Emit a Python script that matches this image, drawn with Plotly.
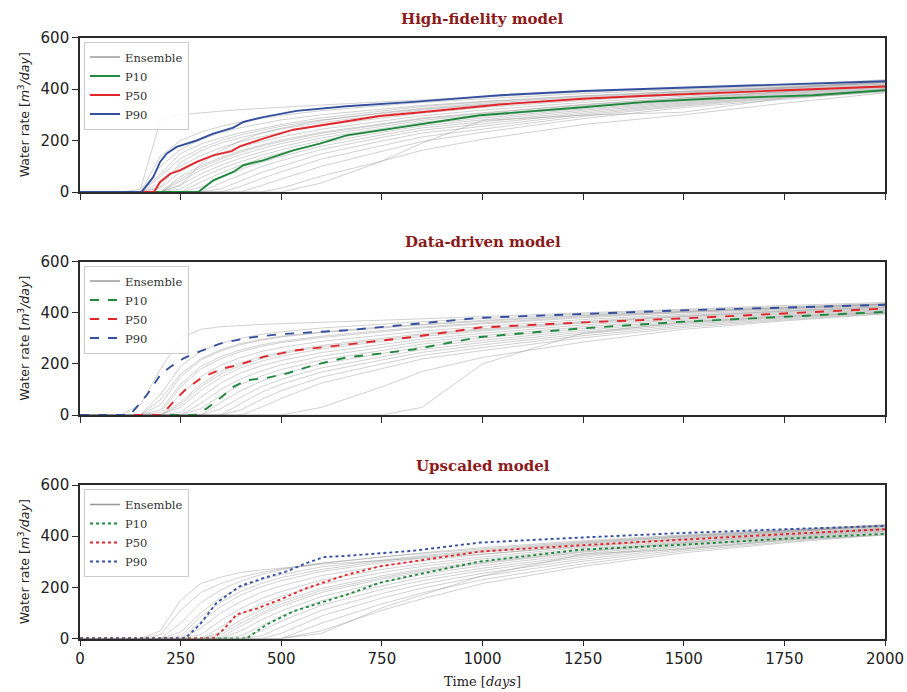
import plotly.graph_objects as go
from plotly.subplots import make_subplots

# ---------------- data ----------------
T = [0, 100, 150, 200, 250, 300, 350, 400, 450, 500, 600, 750, 850, 1000, 1250, 1500, 1750, 2000]

ens_hf = [
    [0, 0, 10, 280, 300, 308, 314, 320, 325, 330, 338, 350, 358, 370, 388, 402, 416, 436],
    [0, 0, 0, 140, 200, 232, 255, 272, 286, 298, 316, 336, 348, 362, 382, 398, 412, 432],
    [0, 0, 0, 100, 165, 205, 230, 250, 266, 280, 300, 323, 336, 352, 374, 392, 408, 428],
    [0, 0, 0, 60, 130, 170, 200, 222, 240, 256, 280, 306, 322, 340, 364, 384, 402, 424],
    [0, 0, 0, 35, 100, 142, 172, 196, 215, 232, 258, 288, 306, 328, 356, 378, 398, 420],
    [0, 0, 0, 15, 80, 122, 152, 176, 196, 214, 244, 276, 296, 318, 348, 372, 394, 418],
    [0, 0, 0, 0, 60, 102, 134, 160, 182, 202, 232, 265, 287, 308, 340, 366, 390, 414],
    [0, 0, 0, 0, 42, 85, 118, 145, 168, 188, 220, 255, 278, 300, 334, 362, 386, 412],
    [0, 0, 0, 0, 28, 70, 104, 132, 155, 176, 210, 247, 271, 293, 328, 358, 383, 410],
    [0, 0, 0, 0, 12, 55, 90, 118, 142, 164, 200, 240, 264, 287, 323, 354, 380, 408],
    [0, 0, 0, 0, 0, 38, 74, 104, 130, 152, 190, 232, 257, 280, 318, 350, 377, 405],
    [0, 0, 0, 0, 0, 18, 55, 88, 115, 138, 178, 222, 249, 272, 312, 346, 374, 402],
    [0, 0, 0, 0, 0, 0, 35, 68, 98, 122, 165, 212, 240, 264, 306, 342, 371, 400],
    [0, 0, 0, 0, 0, 0, 12, 45, 75, 100, 148, 198, 229, 255, 300, 338, 368, 398],
    [0, 0, 0, 0, 0, 0, 0, 22, 52, 78, 128, 180, 214, 244, 294, 334, 365, 396],
    [0, 0, 0, 0, 0, 0, 0, 0, 25, 50, 100, 158, 196, 232, 285, 328, 360, 392],
    [0, 0, 0, 0, 0, 0, 0, 0, 0, 15, 62, 120, 162, 205, 262, 300, 345, 385],
    [0, 0, 0, 0, 0, 0, 0, 0, 0, 0, 35, 120, 190, 278, 298, 310, 365, 388],
    [0, 0, 0, 70, 150, 186, 210, 230, 247, 262, 288, 316, 332, 350, 372, 390, 406, 426],
    [0, 0, 0, 0, 25, 110, 162, 200, 228, 248, 278, 308, 325, 345, 368, 388, 405, 428],
    [0, 0, 0, 20, 115, 160, 190, 212, 230, 245, 270, 300, 318, 338, 362, 384, 403, 425],
    [0, 0, 0, 0, 50, 95, 128, 155, 178, 196, 228, 262, 284, 305, 338, 365, 389, 415],
]

ens_dd = [
    [0, 0, 40, 180, 300, 335, 345, 350, 354, 357, 362, 370, 376, 385, 400, 415, 428, 440],
    [0, 0, 0, 80, 190, 250, 280, 300, 315, 325, 340, 355, 365, 377, 395, 410, 424, 436],
    [0, 0, 0, 40, 150, 215, 250, 275, 292, 305, 322, 340, 352, 366, 388, 405, 420, 433],
    [0, 0, 0, 10, 110, 180, 220, 248, 268, 283, 303, 325, 340, 356, 380, 400, 416, 430],
    [0, 0, 0, 0, 80, 150, 195, 225, 248, 264, 288, 312, 328, 346, 373, 394, 412, 427],
    [0, 0, 0, 0, 50, 120, 170, 205, 228, 246, 272, 300, 318, 337, 366, 389, 408, 424],
    [0, 0, 0, 0, 30, 95, 148, 185, 210, 230, 258, 288, 307, 328, 359, 384, 404, 421],
    [0, 0, 0, 0, 10, 70, 125, 165, 192, 213, 244, 276, 297, 319, 352, 379, 400, 418],
    [0, 0, 0, 0, 0, 45, 100, 142, 172, 196, 230, 264, 287, 310, 345, 374, 396, 415],
    [0, 0, 0, 0, 0, 25, 75, 120, 152, 178, 215, 252, 277, 301, 338, 369, 392, 412],
    [0, 0, 0, 0, 0, 0, 50, 95, 132, 160, 200, 240, 267, 292, 331, 364, 388, 409],
    [0, 0, 0, 0, 0, 0, 25, 70, 110, 140, 184, 228, 256, 283, 324, 359, 384, 406],
    [0, 0, 0, 0, 0, 0, 0, 45, 88, 120, 168, 215, 245, 274, 317, 354, 380, 403],
    [0, 0, 0, 0, 0, 0, 0, 20, 60, 95, 148, 200, 233, 264, 310, 348, 376, 400],
    [0, 0, 0, 0, 0, 0, 0, 0, 30, 65, 125, 182, 219, 252, 302, 342, 372, 397],
    [0, 0, 0, 0, 0, 0, 0, 0, 0, 0, 30, 110, 170, 225, 285, 335, 368, 395],
    [0, 0, 0, 0, 0, 0, 0, 0, 0, 0, 0, 0, 30, 200, 320, 362, 385, 400],
    [0, 0, 0, 60, 160, 220, 255, 280, 296, 308, 325, 344, 355, 370, 390, 406, 420, 434],
    [0, 0, 0, 20, 120, 190, 228, 255, 274, 288, 308, 330, 344, 360, 384, 402, 418, 432],
    [0, 0, 0, 0, 40, 110, 160, 195, 220, 240, 266, 295, 313, 333, 362, 386, 406, 422],
]

ens_up = [
    [0, 0, 0, 30, 150, 215, 240, 258, 268, 275, 290, 305, 315, 330, 360, 390, 415, 442],
    [0, 0, 0, 0, 60, 140, 190, 225, 250, 268, 295, 320, 335, 355, 382, 405, 425, 445],
    [0, 0, 0, 0, 25, 100, 160, 200, 228, 250, 280, 308, 324, 345, 375, 400, 421, 442],
    [0, 0, 0, 0, 0, 65, 125, 170, 202, 226, 262, 296, 314, 337, 369, 396, 418, 440],
    [0, 0, 0, 0, 0, 40, 100, 145, 180, 206, 246, 284, 304, 329, 363, 392, 415, 438],
    [0, 0, 0, 0, 0, 15, 70, 118, 155, 184, 228, 270, 292, 319, 356, 387, 411, 435],
    [0, 0, 0, 0, 0, 0, 45, 95, 135, 165, 212, 258, 282, 311, 350, 382, 408, 432],
    [0, 0, 0, 0, 0, 0, 25, 72, 112, 145, 196, 245, 271, 302, 344, 378, 405, 430],
    [0, 0, 0, 0, 0, 0, 5, 50, 92, 126, 180, 232, 260, 293, 337, 373, 401, 427],
    [0, 0, 0, 0, 0, 0, 0, 30, 72, 108, 164, 220, 250, 285, 331, 369, 398, 425],
    [0, 0, 0, 0, 0, 0, 0, 10, 50, 88, 148, 206, 238, 275, 324, 364, 394, 422],
    [0, 0, 0, 0, 0, 0, 0, 0, 30, 68, 130, 192, 226, 266, 318, 360, 391, 420],
    [0, 0, 0, 0, 0, 0, 0, 0, 10, 45, 110, 176, 212, 255, 310, 354, 387, 417],
    [0, 0, 0, 0, 0, 0, 0, 0, 0, 20, 88, 158, 197, 244, 302, 348, 383, 414],
    [0, 0, 0, 0, 0, 0, 0, 0, 0, 0, 60, 135, 178, 230, 292, 342, 378, 410],
    [0, 0, 0, 0, 0, 0, 0, 0, 0, 0, 30, 110, 155, 215, 282, 335, 374, 406],
    [0, 0, 0, 0, 0, 0, 0, 0, 0, 0, 20, 120, 170, 245, 330, 350, 385, 404],
    [0, 0, 0, 15, 110, 180, 215, 240, 258, 272, 294, 318, 332, 350, 378, 402, 423, 444],
    [0, 0, 0, 0, 10, 85, 142, 185, 215, 238, 270, 302, 320, 341, 372, 398, 420, 441],
    [0, 0, 0, 0, 0, 0, 15, 60, 100, 135, 188, 238, 266, 297, 340, 375, 403, 428],
]

# percentile curves (time, value)
hf_p90_t = [0, 153, 182, 199, 215, 240, 290, 331, 381, 406, 455, 538, 662, 828, 1043, 1250, 1491, 1750, 2000]
hf_p90_v = [0, 0, 58, 117, 149, 175, 200, 227, 250, 272, 291, 315, 333, 350, 376, 392, 405, 418, 430]
hf_p50_t = [0, 184, 199, 224, 248, 290, 331, 377, 397, 455, 530, 662, 745, 828, 1043, 1250, 1408, 1750, 2000]
hf_p50_v = [0, 0, 39, 71, 84, 117, 142, 159, 177, 207, 242, 276, 295, 307, 340, 362, 374, 395, 410]
hf_p10_t = [0, 294, 331, 356, 381, 406, 455, 530, 596, 662, 745, 828, 994, 1242, 1408, 1573, 1822, 2000]
hf_p10_v = [0, 0, 45, 62, 78, 104, 123, 162, 188, 220, 240, 259, 298, 328, 350, 363, 376, 395]

dd_p90_t = [0, 124, 166, 199, 224, 257, 290, 348, 414, 497, 662, 828, 994, 1250, 1491, 1750, 2000]
dd_p90_v = [0, 0, 78, 156, 188, 221, 244, 279, 301, 316, 331, 355, 380, 395, 409, 420, 431]
dd_p50_t = [0, 203, 232, 265, 306, 356, 397, 455, 538, 662, 828, 994, 1250, 1491, 1750, 2000]
dd_p50_v = [0, 0, 52, 104, 149, 182, 197, 227, 253, 275, 305, 342, 362, 377, 398, 416]
dd_p10_t = [0, 286, 315, 348, 381, 414, 464, 513, 580, 662, 745, 828, 994, 1242, 1491, 1750, 2000]
dd_p10_v = [0, 0, 26, 65, 110, 136, 145, 162, 195, 225, 240, 256, 305, 338, 364, 385, 403]

up_p90_t = [0, 261, 298, 339, 397, 455, 513, 563, 604, 662, 828, 994, 1250, 1491, 1750, 2000]
up_p90_v = [0, 0, 55, 139, 204, 236, 262, 295, 318, 323, 343, 375, 395, 412, 427, 440]
up_p50_t = [0, 331, 356, 389, 439, 497, 563, 662, 745, 828, 994, 1250, 1491, 1750, 2000]
up_p50_v = [0, 0, 35, 94, 117, 152, 197, 249, 282, 301, 340, 365, 386, 408, 427]
up_p10_t = [0, 414, 464, 530, 596, 662, 745, 828, 994, 1242, 1491, 1750, 2000]
up_p10_v = [0, 0, 55, 106, 139, 171, 218, 247, 301, 347, 366, 390, 409]

titles = ["High-fidelity model", "Data-driven model", "Upscaled model"]
x_ticks = [0, 250, 500, 750, 1000, 1250, 1500, 1750, 2000]
y_ticks = [0, 200, 400, 600]

# ---------------- styling ----------------
GREEN = "#1f8a3e"
RED = "#e3262b"
BLUE = "#34509e"
ENS = "rgba(145,145,145,0.42)"
FRAME = "#2a2a2a"
TITLE_COLOR = "#8b1a1a"
SERIF = "DejaVu Serif"
SANS = "DejaVu Sans"

W, H = 907, 692
L, R = 80, 22
panel_px = [(37.5, 192.0), (261.5, 415.0), (485.0, 638.5)]
title_px = [19, 242, 466]

fig = make_subplots(rows=3, cols=1)

panels = [
    (ens_hf, [(hf_p10_t, hf_p10_v), (hf_p50_t, hf_p50_v), (hf_p90_t, hf_p90_v)], "solid"),
    (ens_dd, [(dd_p10_t, dd_p10_v), (dd_p50_t, dd_p50_v), (dd_p90_t, dd_p90_v)], "dash"),
    (ens_up, [(up_p10_t, up_p10_v), (up_p50_t, up_p50_v), (up_p90_t, up_p90_v)], "dot"),
]
legend_names = ["legend", "legend2", "legend3"]

for i, (ens, pcts, dash) in enumerate(panels):
    row = i + 1
    lg = legend_names[i]
    for curve in ens:
        fig.add_trace(go.Scatter(x=T, y=curve, mode="lines",
                                 line=dict(color=ENS, width=1),
                                 showlegend=False, hoverinfo="skip", legend=lg),
                      row=row, col=1)
    # legend entry for ensemble
    fig.add_trace(go.Scatter(x=[None], y=[None], mode="lines", name="Ensemble",
                             line=dict(color="#9a9a9a", width=1.6), legend=lg,
                             showlegend=True), row=row, col=1)
    for (tt, vv), nm, col in zip(pcts, ["P10", "P50", "P90"], [GREEN, RED, BLUE]):
        fig.add_trace(go.Scatter(x=tt, y=vv, mode="lines", name=nm,
                                 line=dict(color=col, width=1.9, dash=dash),
                                 legend=lg), row=row, col=1)

for i in range(3):
    top, bot = panel_px[i]
    dom = [1 - bot / H, 1 - top / H]
    xa = "xaxis" if i == 0 else f"xaxis{i+1}"
    ya = "yaxis" if i == 0 else f"yaxis{i+1}"
    fig.layout[xa].update(
        domain=[0, 1], range=[0, 2000], tickvals=x_ticks, automargin=False,
        showticklabels=(i == 2), ticks="outside", ticklen=6, tickwidth=1.3,
        tickcolor=FRAME, showline=True, linecolor=FRAME, linewidth=1.6,
        mirror=True, showgrid=False, zeroline=False,
        tickfont=dict(family=SANS, size=15, color="#222"),
    )
    fig.layout[ya].update(
        domain=dom, range=[0, 600], tickvals=y_ticks, automargin=False,
        ticks="outside", ticklen=6, tickwidth=1.3, tickcolor=FRAME,
        showline=True, linecolor=FRAME, linewidth=1.6, mirror=True,
        showgrid=False, zeroline=False,
        tickfont=dict(family=SANS, size=15, color="#222"),
        title=dict(text="Water rate [<i>m</i><sup>3</sup><i>/day</i>]",
                   font=dict(family=SANS, size=12.5, color="#222"), standoff=8),
    )
    fig.add_annotation(text=f"<b>{titles[i]}</b>", xref="paper", yref="paper",
                       x=0.5, y=1 - title_px[i] / H, xanchor="center", yanchor="middle",
                       showarrow=False, font=dict(family=SERIF, size=15, color=TITLE_COLOR))
    leg = dict(x=0.005, y=1 - (top + 4) / H, xanchor="left", yanchor="top",
               bgcolor="rgba(255,255,255,0.85)", bordercolor="#cccccc", borderwidth=1,
               font=dict(family=SERIF, size=11.5, color="#333"),
               itemwidth=30, tracegroupgap=0)
    fig.layout[legend_names[i]] = leg

fig.layout.xaxis3.title = dict(text="Time [<i>days</i>]",
                               font=dict(family=SERIF, size=13, color="#222"), standoff=10)

fig.update_layout(
    width=W, height=H,
    margin=dict(l=L, r=R, t=0, b=0),
    plot_bgcolor="white", paper_bgcolor="white",
)

fig.write_html("out.html")
